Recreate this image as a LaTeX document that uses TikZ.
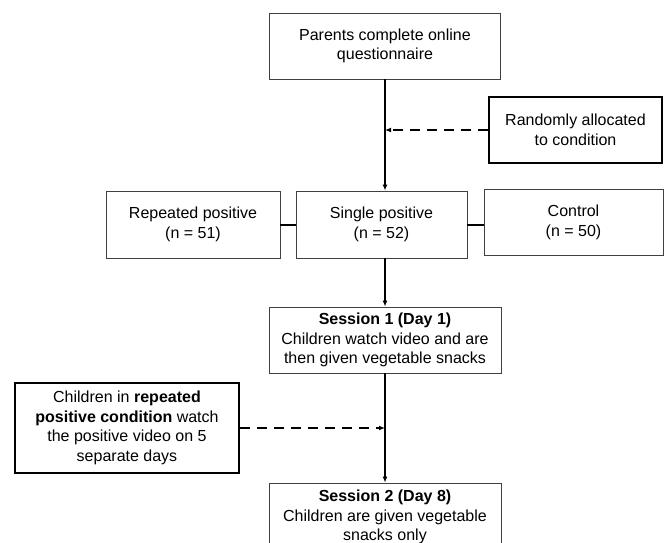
\documentclass[tikz,border=0pt]{standalone}
\usepackage{fontspec}
\setmainfont{Liberation Sans}
\usetikzlibrary{arrows.meta}

\begin{document}
\begin{tikzpicture}[x=1pt, y=-1pt]

    % Page frame (cuts the last box like the original)
    \clip (0,0) rectangle (667,543);
    \fill[white] (0,0) rectangle (667,543);

    \tikzset{box/.style={draw=black!75, line width=0.9pt, align=center, inner sep=0pt,
                         font=\fontsize{16}{19.5}\selectfont}}
    \tikzset{thickbox/.style={box, draw=black, line width=2.6pt}}
    \tikzset{flow/.style={-{Latex[length=6pt,width=5pt]}, line width=2pt}}
    \tikzset{side/.style={-{Latex[length=6pt,width=5pt]}, line width=2.5pt, dash pattern=on 10pt off 7pt}}

    % Main steps
    \node[box, minimum width=231, minimum height=66] (parents) at (385,46) {Parents complete online\\questionnaire};
    \node[thickbox, minimum width=173, minimum height=66] (random) at (575.5,130) {Randomly allocated\\to condition};

    % Conditions
    \node[box, minimum width=174, minimum height=67] (repeated) at (193,224.5) {Repeated positive\\(n = 51)};
    \node[box, minimum width=171, minimum height=67] (single) at (381.5,224.5) {Single positive\\(n = 52)};
    \node[box, minimum width=179, minimum height=66] (control) at (573.5,222.5) {Control\\(n = 50)};

    % Sessions
    \node[box, minimum width=232, minimum height=66] (sessA) at (385,340) {\textbf{Session 1 (Day 1)}\\Children watch video and are\\then given vegetable snacks};
    \node[thickbox, minimum width=224, minimum height=90] (extra) at (127,428) {Children in \textbf{repeated}\\\textbf{positive condition} watch\\the positive video on 5\\separate days};
    \node[box, minimum width=232, minimum height=68] (sessB) at (385,517) {\textbf{Session 2 (Day 8)}\\Children are given vegetable\\snacks only};

    % Flow
    \coordinate (allocate) at (parents.south |- random.west);
    \coordinate (between) at (sessA.south |- extra.east);
    \draw[flow] (parents.south) -- (parents.south |- single.north);
    \draw[side] (random.west) -- (allocate);
    \draw[line width=2pt] (repeated.east) -- (single.west);
    \draw[line width=2pt] (single.east) -- (single.east -| control.west);
    \draw[flow] (sessA.north |- single.south) -- (sessA.north);
    \draw[flow] (sessA.south) -- (sessB.north);
    \draw[side] (extra.east) -- (between);

\end{tikzpicture}
\end{document}
